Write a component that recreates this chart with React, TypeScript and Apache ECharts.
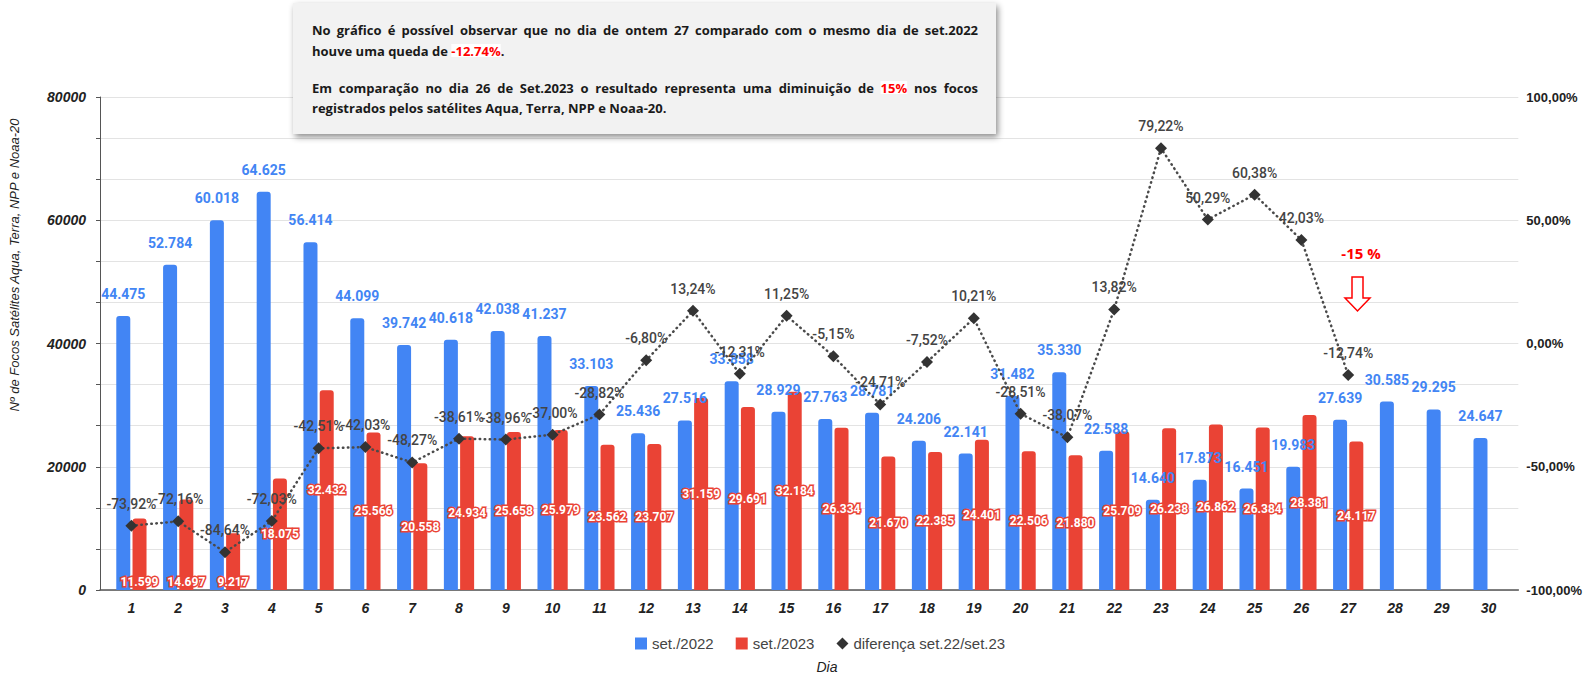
import React, { useEffect, useRef } from "react";
import * as echarts from "echarts";

const days = ["1","2","3","4","5","6","7","8","9","10","11","12","13","14","15","16","17","18","19","20","21","22","23","24","25","26","27","28","29","30"];
const set2022 = [44475,52784,60018,64625,56414,44099,39742,40618,42038,41237,33103,25436,27516,33858,28929,27763,28781,24206,22141,31482,35330,22588,14640,17873,16451,19983,27639,30585,29295,24647];
const set2023 = [11599,14697,9217,18075,32432,25566,20558,24934,25658,25979,23562,23707,31159,29691,32184,26334,21670,22385,24401,22506,21880,25709,26238,26862,26384,28381,24117];
const diff = [-73.92,-72.16,-84.64,-72.03,-42.51,-42.03,-48.27,-38.61,-38.96,-37.0,-28.82,-6.8,13.24,-12.31,11.25,-5.15,-24.71,-7.52,10.21,-28.51,-38.07,13.82,79.22,50.29,60.38,42.03,-12.74];
const leftTicks = [0, 20000, 40000, 60000, 80000];
const rightTicks = [-100, -50, 0, 50, 100];

const seriesNames = ["set./2022", "set./2023", "diferença set.22/set.23"];
const yTitle = "Nº de Focos Satélites Aqua, Terra, NPP e Noaa-20";
const xTitle = "Dia";
const calloutText = "-15 %";

const noteLines = [
  { segs: [{ t: "No gráfico é possível observar que no dia de ontem 27 comparado com o mesmo dia de set.2022" }], justify: true },
  { segs: [{ t: "houve uma queda de " }, { t: "-12.74%", red: true }, { t: "." }], justify: false },
  { segs: [{ t: "Em comparação no dia 26 de Set.2023 o resultado representa uma diminuição de " }, { t: "15%", red: true }, { t: " nos focos" }], justify: true },
  { segs: [{ t: "registrados pelos satélites Aqua, Terra, NPP e Noaa-20." }], justify: false },
];

const BLUE = "#4285F4";
const RED = "#EA4335";

const fmtThousands = (v: number) => String(v).replace(/\B(?=(\d{3})+(?!\d))/g, ".");
const fmtPct = (v: number) => v.toFixed(2).replace(".", ",") + "%";

function buildNote(): any[] {
  const canvas = document.createElement("canvas");
  const ctx = canvas.getContext("2d")!;
  const fontSize = 13;
  const fam = '"Open Sans"';
  ctx.font = `bold ${fontSize}px ${fam}`;
  const m = (s: string) => ctx.measureText(s).width;
  const left = 312;
  const width = 666;
  const ys = [30, 50.5, 87.5, 107.5];
  const els: any[] = [];
  noteLines.forEach((line, li) => {
    const y = ys[li];
    const mk = (x: number, t: string, red?: boolean) => ({
      type: "text",
      x,
      y,
      z: 20,
      style: {
        text: t,
        fill: red ? "#ff0000" : "#1a1a1a",
        fontSize,
        fontWeight: "bold",
        fontFamily: "Open Sans",
        verticalAlign: "middle",
        align: "left",
        backgroundColor: red ? "#ffffff" : undefined,
      },
    });
    if (line.justify) {
      const words: { t: string; red?: boolean }[] = [];
      line.segs.forEach((s: any) => s.t.split(" ").filter((w: string) => w.length).forEach((w: string) => words.push({ t: w, red: s.red })));
      const total = words.reduce((a, w) => a + m(w.t), 0);
      const gap = (width - total) / (words.length - 1);
      let x = left;
      words.forEach((w) => {
        els.push(mk(x, w.t, w.red));
        x += m(w.t) + gap;
      });
    } else {
      let x = left;
      line.segs.forEach((s: any) => {
        els.push(mk(x, s.t, s.red));
        x += m(s.t);
      });
    }
  });
  return els;
}

export default function App() {
  const ref = useRef<HTMLDivElement>(null);
  useEffect(() => {
    const chart = echarts.init(ref.current!, undefined, { renderer: "svg" });
    const gridTop = 97;
    const gridBottomY = 590;
    const h = gridBottomY - gridTop;
    const catAxisBase = {
      gridIndex: 1,
      type: "category",
      data: days,
      axisLine: { show: false },
      axisTick: { show: false },
    };
    const blueLabel = {
      show: true,
      position: "top",
      distance: 15,
      color: BLUE,
      fontSize: 14,
      fontWeight: "bold",
      fontFamily: "Roboto",
      formatter: (p: any) => fmtThousands(p.value),
    };
    const redLabel = {
      show: true,
      position: "inside",
      color: "#ffffff",
      textBorderColor: RED,
      textBorderWidth: 3,
      fontSize: 12,
      fontWeight: "bold",
      fontFamily: "Roboto",
      formatter: (p: any) => fmtThousands(typeof p.value === "number" ? p.value : p.data.value),
    };
    const redData = set2023.map((v) => (v < 15000 ? { value: v, label: { position: "insideBottom", distance: 2 } } : v));
    const option: any = {
      animation: false,
      backgroundColor: "#ffffff",
      grid: [
        { left: 100, top: gridTop, width: 1420, height: h },
        { left: 108, top: gridTop, width: 1404, height: h },
      ],
      legend: {
        left: 630,
        top: 631,
        itemWidth: 12,
        itemHeight: 12,
        itemGap: 22,
        textStyle: { fontSize: 15, color: "#444", fontFamily: "Liberation Sans, Arial" },
        data: [
          { name: seriesNames[0], icon: "rect" },
          { name: seriesNames[1], icon: "rect" },
          { name: seriesNames[2], icon: "diamond" },
        ],
      },
      xAxis: [
        {
          gridIndex: 0,
          type: "value",
          min: 0,
          max: 1,
          axisLine: { show: true, onZero: false, lineStyle: { color: "#555", width: 1.5 } },
          axisTick: { show: false },
          axisLabel: { show: false },
          splitLine: { show: false },
        },
        {
          ...catAxisBase,
          axisLabel: {
            margin: 11,
            fontSize: 14,
            fontWeight: "bold",
            fontStyle: "italic",
            color: "#222",
            fontFamily: "Liberation Sans, Arial",
          },
        },
        { ...catAxisBase, axisLabel: { show: false } },
      ],
      yAxis: [
        {
          gridIndex: 0,
          type: "value",
          position: "left",
          min: 0,
          max: 80000,
          interval: 80000 / 12,
          axisLine: { show: true, lineStyle: { color: "#555", width: 1 } },
          axisTick: { show: true, length: 4, lineStyle: { color: "#555" } },
          splitLine: { show: true, lineStyle: { color: "#e3e3e3", width: 1 } },
          axisLabel: {
            margin: 14,
            fontSize: 14,
            fontWeight: "bold",
            fontStyle: "italic",
            color: "#222",
            fontFamily: "Liberation Sans, Arial",
            formatter: (v: number) => {
              const t = leftTicks.find((k) => Math.abs(k - v) < 1);
              return t === undefined ? "" : String(t);
            },
          },
        },
        {
          gridIndex: 0,
          type: "value",
          position: "right",
          min: -100,
          max: 100,
          interval: 200 / 12,
          axisLine: { show: false },
          axisTick: { show: false },
          splitLine: { show: false },
          axisLabel: {
            margin: 8,
            fontSize: 13,
            fontWeight: "bold",
            color: "#222",
            fontFamily: "Liberation Sans, Arial",
            formatter: (v: number) => {
              const t = rightTicks.find((k) => Math.abs(k - v) < 0.01);
              return t === undefined ? "" : fmtPct(t);
            },
          },
        },
        { gridIndex: 1, type: "value", min: 0, max: 80000, show: false },
        { gridIndex: 1, type: "value", min: -100, max: 100, show: false },
      ],
      series: [
        {
          name: seriesNames[0],
          type: "bar",
          xAxisIndex: 1,
          yAxisIndex: 2,
          data: set2022,
          barWidth: 14,
          barGap: "16%",
          itemStyle: { color: BLUE, borderRadius: [3, 3, 0, 0] },
          z: 3,
        },
        {
          name: seriesNames[1],
          type: "bar",
          xAxisIndex: 1,
          yAxisIndex: 2,
          data: set2023,
          barWidth: 14,
          barGap: "16%",
          itemStyle: { color: RED, borderRadius: [3, 3, 0, 0] },
          z: 3,
        },
        {
          name: "lbl2022",
          type: "bar",
          xAxisIndex: 2,
          yAxisIndex: 2,
          data: set2022,
          barWidth: 14,
          barGap: "16%",
          itemStyle: { color: "rgba(0,0,0,0)" },
          label: blueLabel,
          silent: true,
          z: 6,
        },
        {
          name: "lbl2023",
          type: "bar",
          xAxisIndex: 2,
          yAxisIndex: 2,
          data: redData,
          barWidth: 14,
          barGap: "16%",
          itemStyle: { color: "rgba(0,0,0,0)" },
          label: redLabel,
          silent: true,
          z: 6,
        },
        {
          name: seriesNames[2],
          type: "line",
          xAxisIndex: 1,
          yAxisIndex: 3,
          data: diff,
          symbol: "diamond",
          symbolSize: 12,
          itemStyle: { color: "#333333" },
          lineStyle: { color: "#4a4a4a", width: 2.5, type: [0.5, 4.5], cap: "round" },
          label: {
            show: true,
            position: "top",
            distance: 9,
            color: "#444",
            fontSize: 14,
            fontWeight: 500,
            fontFamily: "Roboto",
            formatter: (p: any) => fmtPct(p.value),
          },
          z: 10,
        },
      ],
      graphic: [
        {
          type: "rect",
          z: 15,
          shape: { x: 293, y: 3, width: 703, height: 131 },
          style: {
            fill: "#f2f2f2",
            shadowBlur: 6,
            shadowColor: "rgba(0,0,0,0.45)",
            shadowOffsetX: 2,
            shadowOffsetY: 3,
          },
        },
        ...buildNote(),
        {
          type: "text",
          x: 14,
          y: 265,
          rotation: Math.PI / 2,
          style: {
            text: yTitle,
            fontSize: 13,
            fontStyle: "italic",
            fontFamily: "Liberation Sans, Arial",
            fill: "#222",
            align: "center",
            verticalAlign: "middle",
          },
        },
        {
          type: "text",
          x: 827,
          y: 667,
          style: {
            text: xTitle,
            fontSize: 14,
            fontStyle: "italic",
            fontFamily: "Liberation Sans, Arial",
            fill: "#222",
            align: "center",
            verticalAlign: "middle",
          },
        },
        {
          type: "text",
          x: 1361,
          y: 253,
          z: 20,
          style: {
            text: calloutText,
            fontSize: 15,
            fontWeight: "bold",
            fontFamily: "Open Sans",
            fill: "#ff0000",
            align: "center",
            verticalAlign: "middle",
          },
        },
        {
          type: "polygon",
          z: 20,
          shape: {
            points: [
              [1352, 277],
              [1363, 277],
              [1363, 298],
              [1370, 298],
              [1357.5, 311],
              [1345, 298],
              [1352, 298],
            ],
          },
          style: { fill: "#ffffff", stroke: "#ff0000", lineWidth: 1.5 },
        },
      ],
    };
    chart.setOption(option);
    return () => chart.dispose();
  }, []);
  return (
    <div
      ref={ref}
      style={{ position: "fixed", left: 0, top: 0, width: 1585, height: 675, background: "#fff" }}
    />
  );
}
